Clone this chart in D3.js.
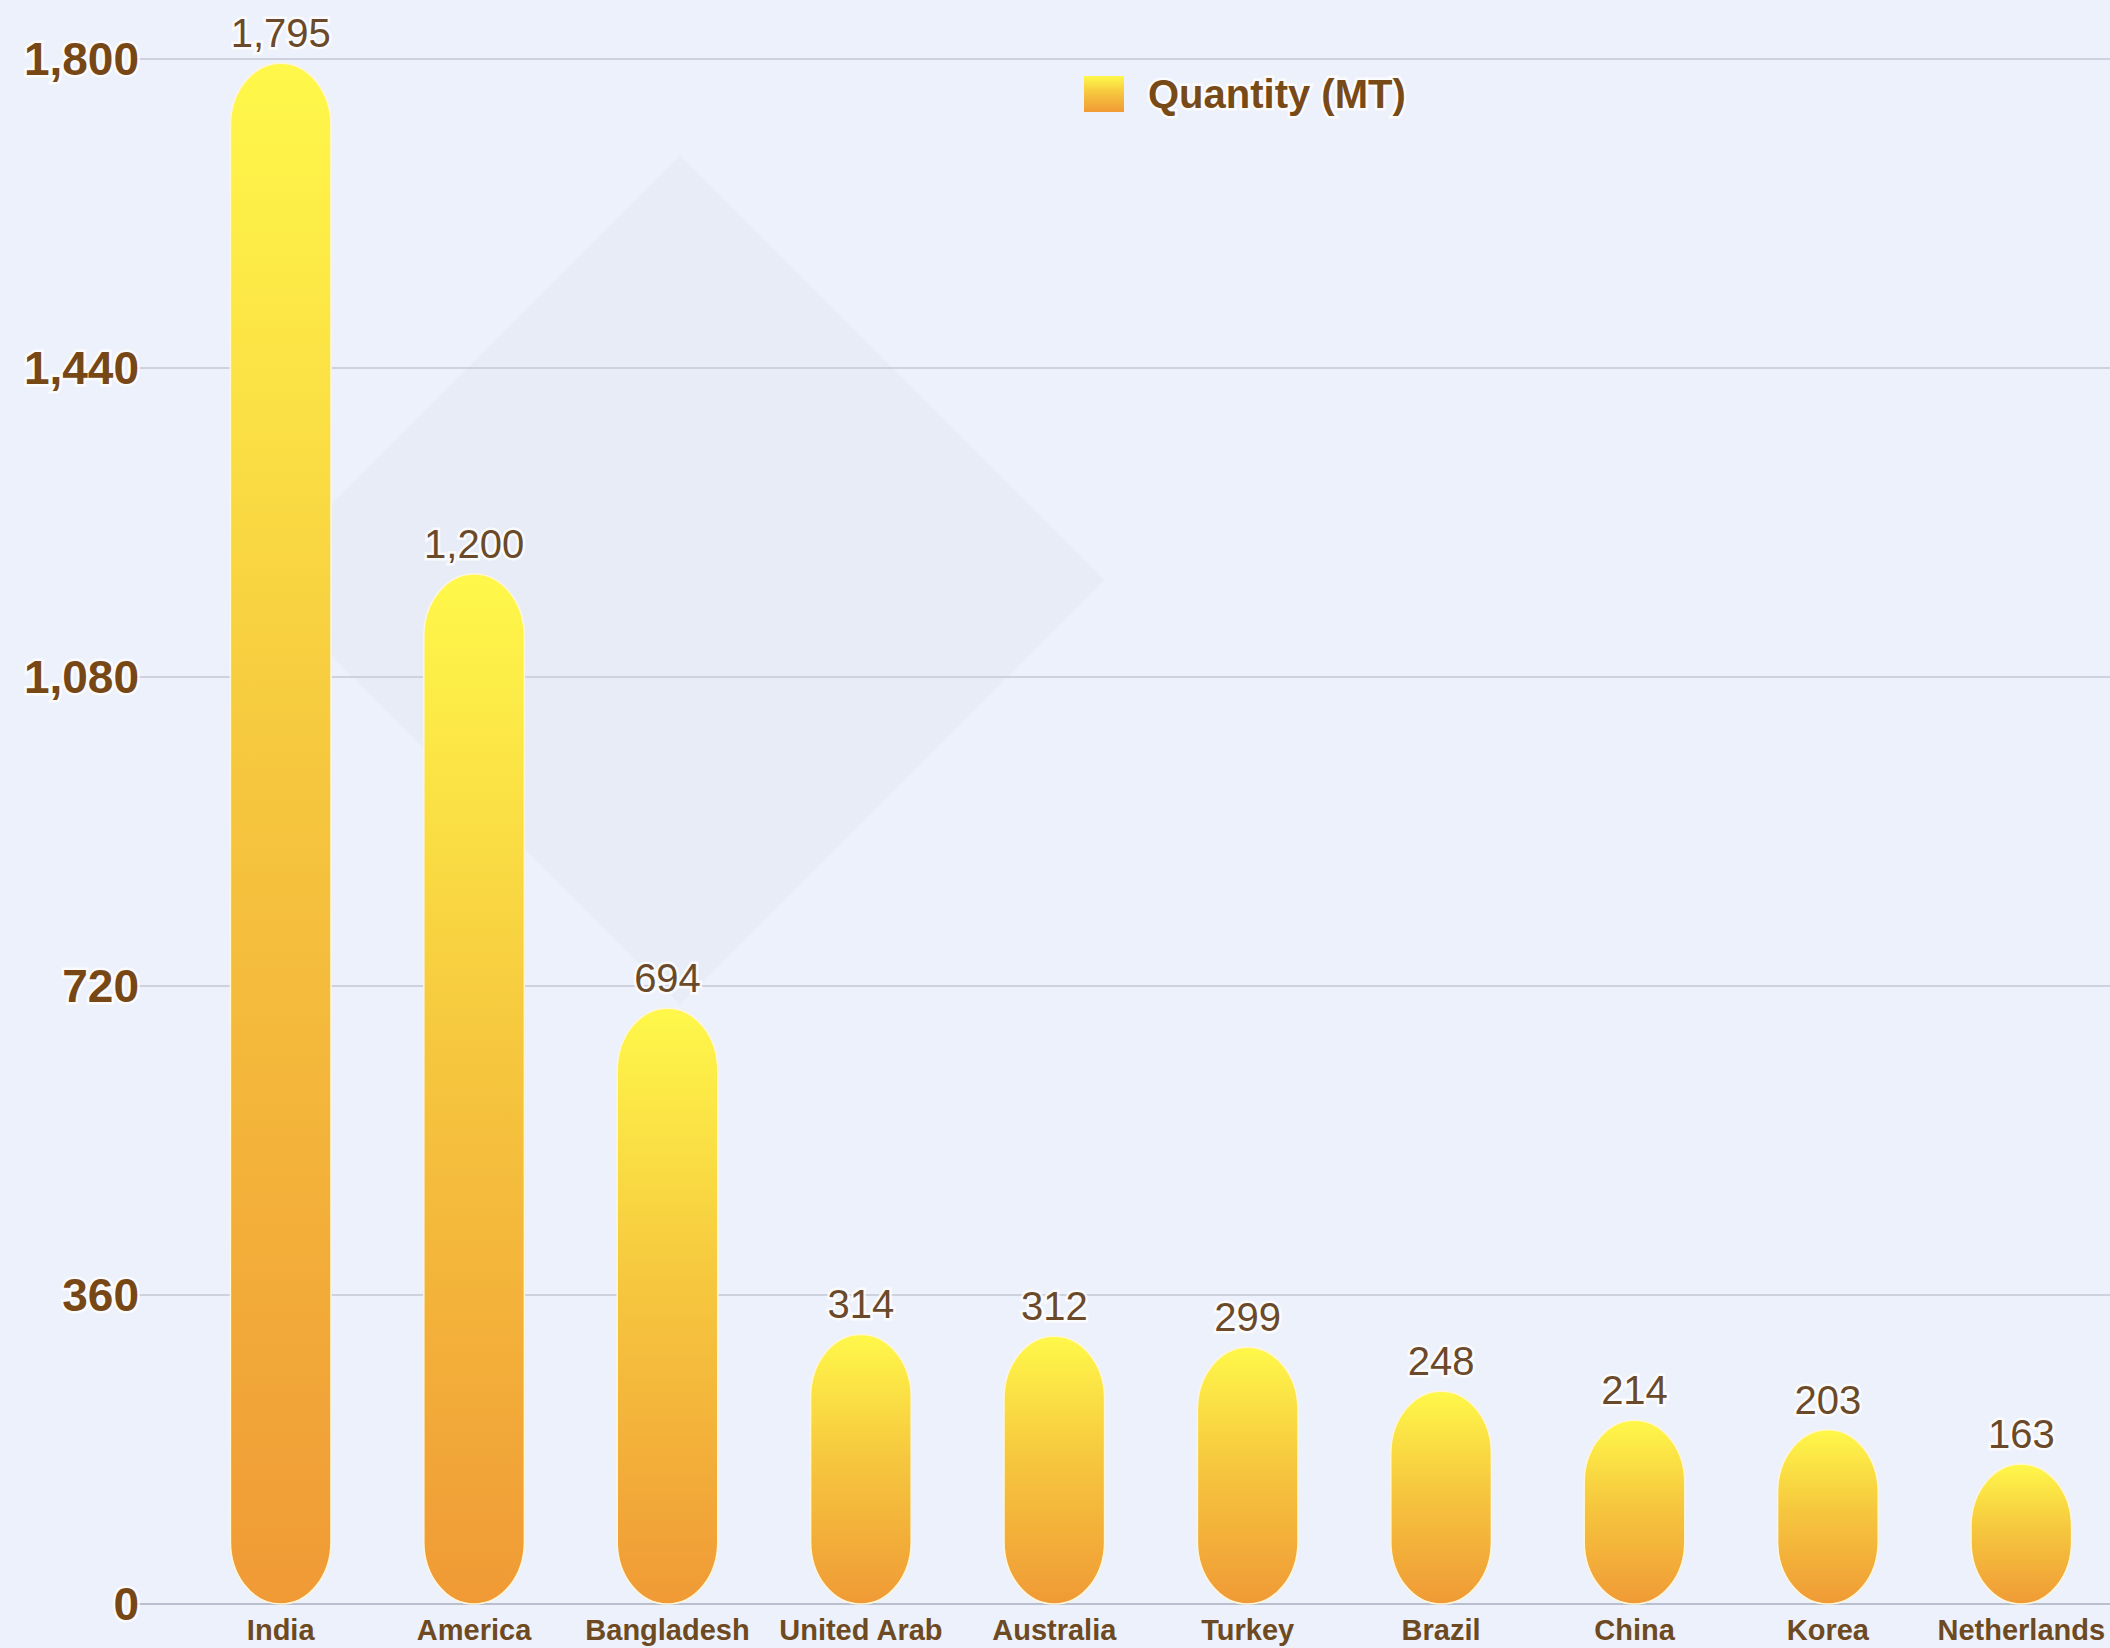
<!DOCTYPE html>
<head>
    <meta charset="utf-8">
    <title>Quantity (MT) by Country</title>
    <style>
        body { margin: 0; background: #edf1fb; }
        svg { display: block; }
        text { font-family: "Liberation Sans", Arial, sans-serif; }
        .y-label { font-size: 46px; font-weight: bold; fill: #774816; }
        .x-label { font-size: 29px; font-weight: bold; fill: #6e4a22; }
        .val { font-size: 40px; fill: #6a4a2a; }
        .halo { stroke: #ffffff; stroke-width: 5px; stroke-opacity: 0.8; paint-order: stroke; }
    </style>
    <script src="https://cdn.jsdelivr.net/npm/d3@7"></script>
</head>
<body>
    <script>
        var countries = ["India", "America", "Bangladesh", "United Arab", "Australia",
                         "Turkey", "Brazil", "China", "Korea", "Netherlands"];
        var quantity = [1795, 1200, 694, 314, 312, 299, 248, 214, 203, 163];
        var yTicks = [0, 360, 720, 1080, 1440, 1800];
        var seriesName = "Quantity (MT)";

        var W = 2110, H = 1648;
        var data = countries.map(function (c, i) { return { name: c, value: quantity[i] }; });

        var x = d3.scaleBand()
            .domain(countries)
            .range([184, 2118])
            .paddingInner(0.48)
            .paddingOuter(0.24);

        var y = d3.scaleLinear()
            .domain([0, 1800])
            .range([1604, 59]);

        var svg = d3.select("body")
            .append("svg")
            .attr("width", W)
            .attr("height", H);

        var defs = svg.append("defs");
        var grad = defs.append("linearGradient")
            .attr("id", "barGrad")
            .attr("x1", 0).attr("y1", 0).attr("x2", 0).attr("y2", 1);
        grad.append("stop").attr("offset", "0%").attr("stop-color", "#fff84a");
        grad.append("stop").attr("offset", "45%").attr("stop-color", "#f6c83e");
        grad.append("stop").attr("offset", "100%").attr("stop-color", "#f09a36");

        svg.append("rect").attr("width", W).attr("height", H).attr("fill", "#edf1fb");

        // faint watermark diamond
        svg.append("rect")
            .attr("x", -300).attr("y", -300).attr("width", 600).attr("height", 600)
            .attr("transform", "translate(680,580) rotate(45)")
            .attr("fill", "#2a3550")
            .attr("opacity", 0.025);

        // grid
        svg.append("g")
            .selectAll("line")
            .data(yTicks)
            .enter()
            .append("line")
            .attr("x1", 137).attr("x2", W)
            .attr("y1", d => y(d)).attr("y2", d => y(d))
            .attr("stroke", d => d === 0 ? "#b9bfcc" : "#cdd2de")
            .attr("stroke-width", 2);

        // y axis labels
        svg.append("g")
            .selectAll("text")
            .data(yTicks)
            .enter()
            .append("text")
            .attr("class", "y-label halo")
            .attr("x", 139)
            .attr("y", d => y(d) + 16)
            .attr("text-anchor", "end")
            .text(d => d3.format(",")(d));

        // bars (capsules)
        svg.append("g")
            .selectAll("rect")
            .data(data)
            .enter()
            .append("rect")
            .attr("x", d => x(d.name))
            .attr("y", d => y(d.value))
            .attr("width", x.bandwidth())
            .attr("height", d => y(0) - y(d.value))
            .attr("rx", x.bandwidth() / 2)
            .attr("ry", x.bandwidth() * 0.62)
            .attr("fill", "url(#barGrad)")
            .attr("stroke", "#fff6d8")
            .attr("stroke-width", 1.5);

        // value labels
        svg.append("g")
            .selectAll("text")
            .data(data)
            .enter()
            .append("text")
            .attr("class", "val halo")
            .attr("x", d => x(d.name) + x.bandwidth() / 2)
            .attr("y", d => y(d.value) - 16)
            .attr("text-anchor", "middle")
            .text(d => d3.format(",")(d.value));

        // x labels
        svg.append("g")
            .selectAll("text")
            .data(countries)
            .enter()
            .append("text")
            .attr("class", "x-label")
            .attr("x", d => x(d) + x.bandwidth() / 2)
            .attr("y", 1640)
            .attr("text-anchor", "middle")
            .text(d => d);

        // legend
        var legend = svg.append("g").attr("transform", "translate(1084,76)");
        legend.append("rect")
            .attr("width", 40).attr("height", 36)
            .attr("fill", "url(#barGrad)");
        legend.append("text")
            .attr("class", "halo")
            .attr("x", 64).attr("y", 32)
            .style("font-size", "40px").style("font-weight", "bold")
            .attr("fill", "#774a18")
            .text(seriesName);
    </script>
</body>
